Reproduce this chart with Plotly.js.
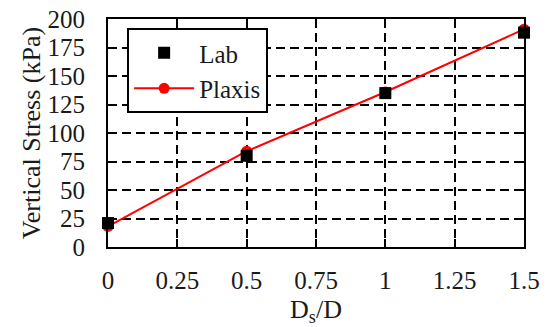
<!DOCTYPE html>
<html>
<head>
<meta charset="utf-8">
<script src="https://cdn.plot.ly/plotly-3.0.1.min.js"></script>
<style>
html,body{margin:0;padding:0;background:#fff;font-family:'Liberation Serif';}
#chart{width:547px;height:327px;}
#warm{position:absolute;left:0;top:0;visibility:hidden;font-family:'Liberation Serif';font-size:25px;}
</style>
</head>
<body>
<span id="warm">0</span>
<div id="chart"></div>
<script>
const ratio = [0, 0.5, 1, 1.5];
const labStress = [21, 80, 135, 188];
const plaxisStress = [18, 84, 136, 191];
const xTicks = [0, 0.25, 0.5, 0.75, 1, 1.25, 1.5];
const xTickLabels = ['0', '0.25', '0.5', '0.75', '1', '1.25', '1.5'];
const yTicks = [0, 25, 50, 75, 100, 125, 150, 175, 200];

const FONT = 'Liberation Serif';
const TXT = '#1a1a1a';

const traces = [
  {
    x: ratio, y: plaxisStress, name: 'Plaxis', type: 'scatter', mode: 'lines+markers',
    line: {color: '#ff0000', width: 2},
    marker: {symbol: 'circle', size: 11, color: '#ff0000'},
    legendrank: 2, cliponaxis: false
  },
  {
    x: ratio, y: labStress, name: 'Lab', type: 'scatter', mode: 'markers',
    marker: {symbol: 'square', size: 12, color: '#000000'},
    legendrank: 1, cliponaxis: false
  }
];

const layout = {
  width: 547, height: 327,
  margin: {l: 108, r: 23, t: 19, b: 80},
  paper_bgcolor: '#ffffff', plot_bgcolor: '#ffffff',
  font: {family: FONT, size: 25, color: TXT},
  showlegend: true,
  legend: {
    x: 0.046, y: 0.96, xanchor: 'left', yanchor: 'top',
    bgcolor: '#ffffff', bordercolor: '#000000', borderwidth: 2,
    font: {family: FONT, size: 25, color: TXT},
    tracegroupgap: 0, itemwidth: 60
  },
  xaxis: {
    range: [0, 1.5], tickmode: 'array', tickvals: xTicks, ticktext: xTickLabels,
    showline: true, linecolor: '#000000', linewidth: 2, mirror: 'ticks',
    ticks: 'inside', ticklen: 8, tickwidth: 2, tickcolor: '#000000',
    showgrid: true, gridcolor: '#000000', gridwidth: 2, griddash: '9px,5px',
    zeroline: false, ticklabelstandoff: 10,
    tickfont: {family: FONT, size: 25, color: TXT},
    title: {text: 'D<sub>s</sub>/D', font: {family: FONT, size: 26, color: TXT}}
  },
  yaxis: {
    range: [0, 200], tickmode: 'array', tickvals: yTicks,
    showline: true, linecolor: '#000000', linewidth: 2, mirror: 'ticks',
    ticks: 'inside', ticklen: 8, tickwidth: 2, tickcolor: '#000000',
    showgrid: true, gridcolor: '#000000', gridwidth: 2, griddash: '9px,5px',
    zeroline: false, ticklabelstandoff: 16,
    tickfont: {family: FONT, size: 25, color: TXT},
    title: {text: 'Vertical Stress (kPa)', font: {family: FONT, size: 26, color: TXT}}
  }
};

Plotly.newPlot('chart', traces, layout, {displayModeBar: false});
</script>
</body>
</html>
